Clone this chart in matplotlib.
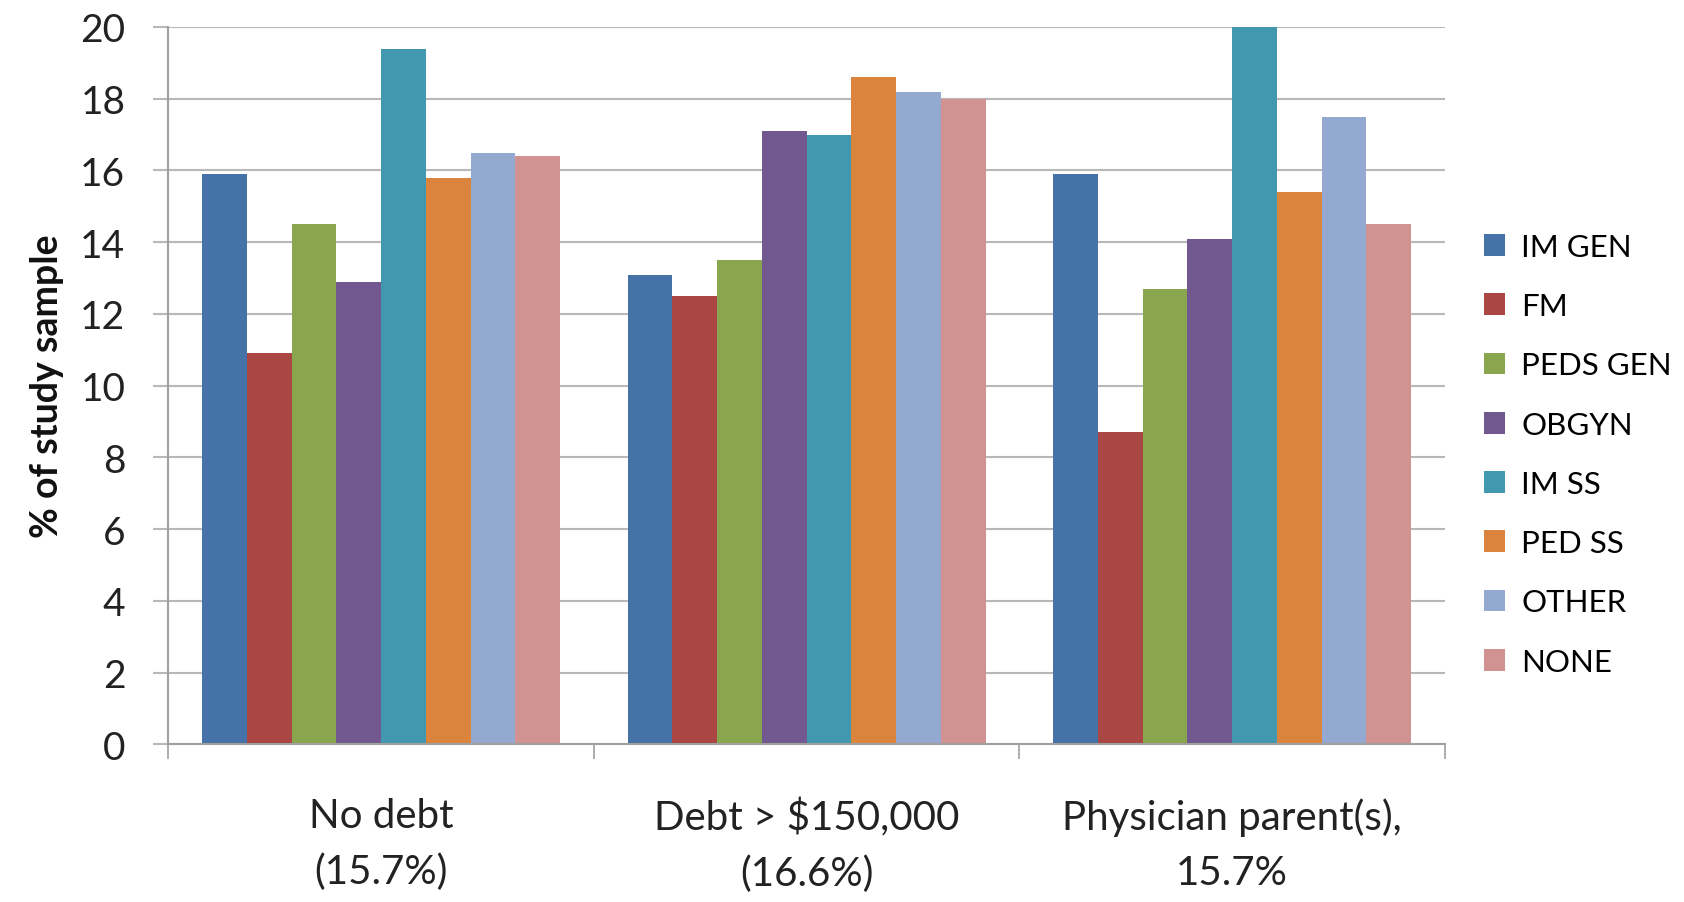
import matplotlib
matplotlib.use("Agg")
import matplotlib.pyplot as plt
import numpy as np
from matplotlib.patches import Patch

categories = ["No debt\n(15.7%)", "Debt > $150,000\n(16.6%)", "Physician parent(s),\n15.7%"]
series = ["IM GEN", "FM", "PEDS GEN", "OBGYN", "IM SS", "PED SS", "OTHER", "NONE"]
im_gen   = [15.9, 13.1, 15.9]
fm       = [10.9, 12.5, 8.7]
peds_gen = [14.5, 13.5, 12.7]
obgyn    = [12.9, 17.1, 14.1]
im_ss    = [19.4, 17.0, 20.0]
ped_ss   = [15.8, 18.6, 15.4]
other    = [16.5, 18.2, 17.5]
none_    = [16.4, 18.0, 14.5]
values = [im_gen, fm, peds_gen, obgyn, im_ss, ped_ss, other, none_]
colors = ["#4572A7", "#AA4643", "#89A54E", "#71588F", "#4198AF", "#DB843D", "#93A9CF", "#D19392"]
yticks = [0, 2, 4, 6, 8, 10, 12, 14, 16, 18, 20]

plt.rcParams['font.family'] = ['Lato', 'DejaVu Sans']

fig = plt.figure(figsize=(16.84, 9.03), dpi=100)
ax = fig.add_axes([0.100, 0.1745, 0.758, 0.7945])

x = np.arange(len(categories))
n = len(series)
group_w = 0.841
bw = group_w / n
for i, (vals, c) in enumerate(zip(values, colors)):
    ax.bar(x - group_w / 2 + bw * (i + 0.5), vals, width=bw, color=c, linewidth=0, zorder=2)

ax.set_xlim(-0.5, len(categories) - 0.5)
ax.set_ylim(0, 20)
ax.set_yticks(yticks)
ax.set_yticklabels([str(t) for t in yticks], fontsize=28, color="#222222")
ax.yaxis.grid(True, color="#b8b8b8", linewidth=1.5, zorder=0)
ax.set_axisbelow(True)

ax.set_xticks(x)
ax.set_xticklabels(categories, fontsize=29, color="#222222", linespacing=1.6)
ax.set_xticks(np.arange(-0.5, len(categories)), minor=True)
ax.tick_params(axis='x', which='major', length=0, pad=38)
ax.tick_params(axis='x', which='minor', length=11, width=1.2, color="#a0a0a0", direction='out')
ax.tick_params(axis='y', which='major', length=11, width=1.5, color="#b8b8b8", direction='out', pad=20)

for s in ['top', 'right']:
    ax.spines[s].set_visible(False)
for s in ['left', 'bottom']:
    ax.spines[s].set_color("#a0a0a0")
    ax.spines[s].set_linewidth(1.5)

ax.set_ylabel("% of study sample", fontsize=27, fontweight='bold', color="#111111", labelpad=12)

handles = [Patch(facecolor=c, edgecolor='none', label=s) for s, c in zip(series, colors)]
fig.legend(handles=handles, loc='upper left', bbox_to_anchor=(0.881, 0.741), frameon=False,
           fontsize=22.5, handlelength=0.7, handleheight=0.7, handletextpad=0.5,
           labelspacing=1.0, borderpad=0, borderaxespad=0)

fig.savefig("out.png", dpi=100)
